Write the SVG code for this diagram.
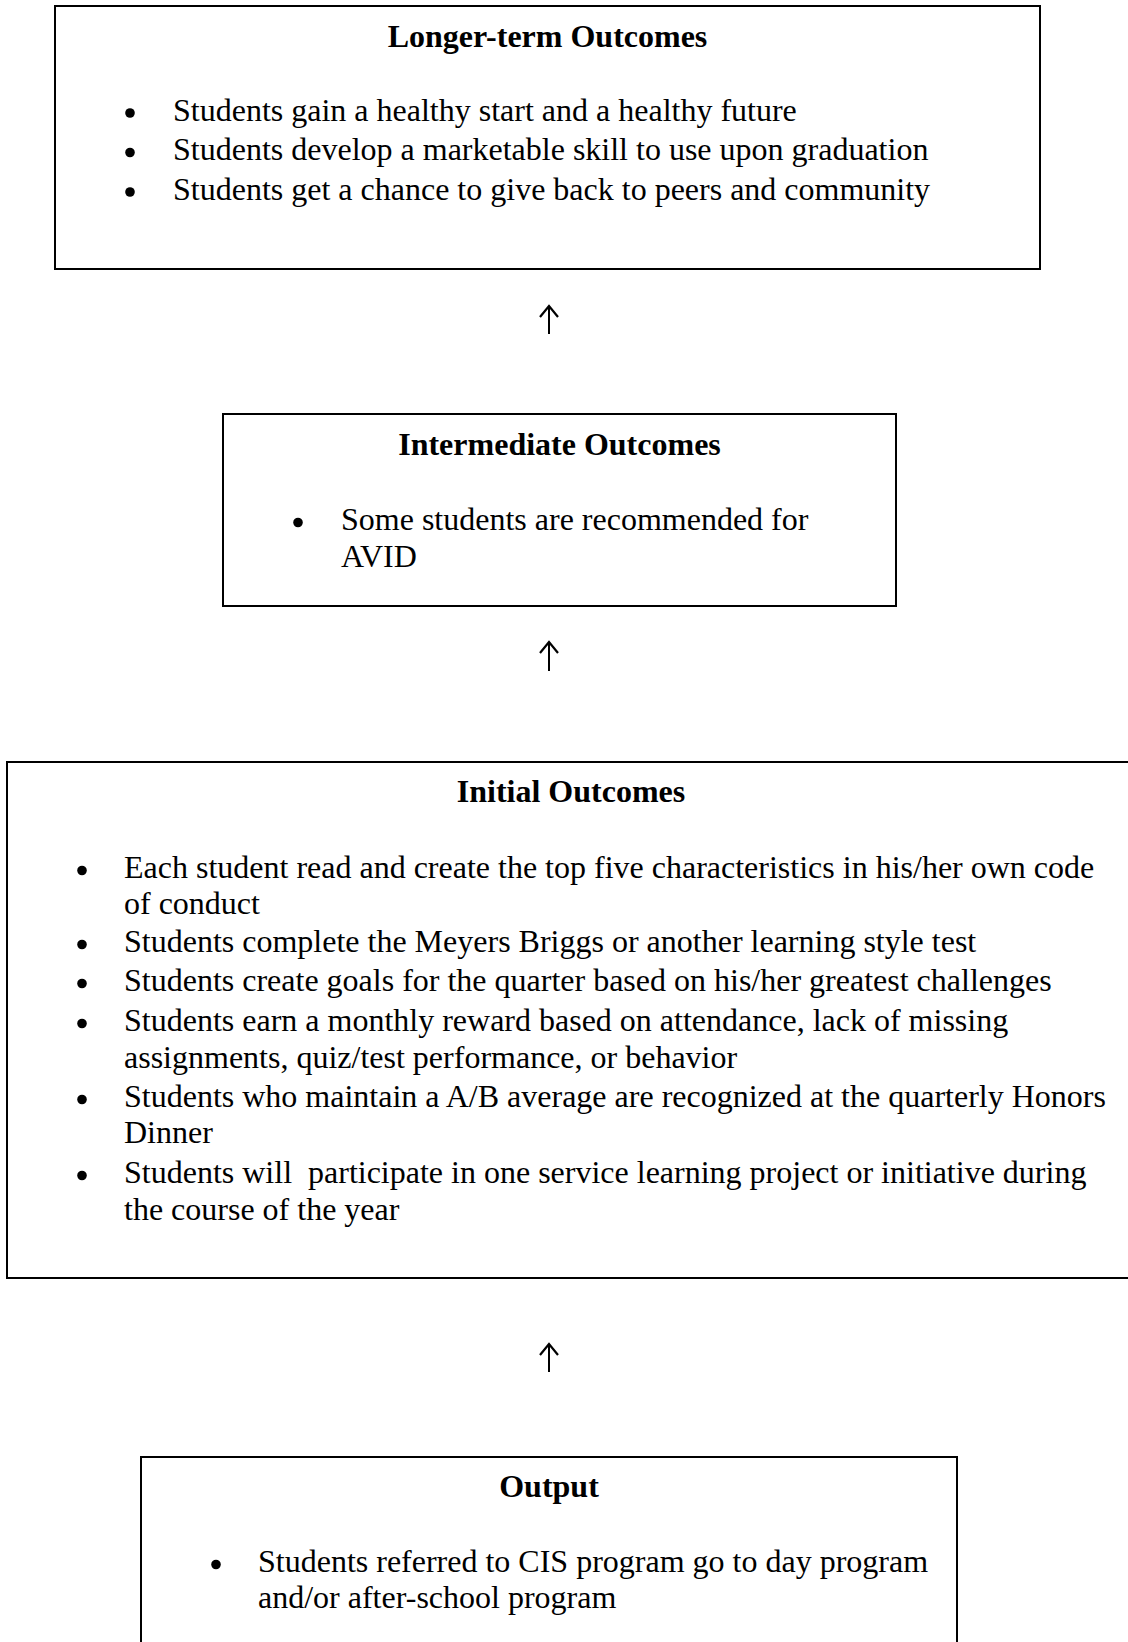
<svg xmlns="http://www.w3.org/2000/svg" width="1128" height="1642" viewBox="0 0 1128 1642">
  <style>
    .box { fill: #fff; stroke: #000; stroke-width: 2; }
    .title { font-family: "Liberation Serif", "Times New Roman", serif; font-size: 32px; font-weight: bold; fill: #000; text-anchor: middle; }
    .body { font-family: "Liberation Serif", "Times New Roman", serif; font-size: 32px; fill: #000; }
    .dot { fill: #000; }
    .conn { fill: none; stroke: #000; stroke-width: 2; }
  </style>
  <defs>
    <marker id="arrowhead" markerUnits="userSpaceOnUse" viewBox="-14 -12 16 24" refX="0" refY="0" markerWidth="16" markerHeight="24" orient="auto" overflow="visible">
      <path d="M-11,-9 L0,0 L-11,9" fill="none" stroke="#000" stroke-width="2.2" stroke-linejoin="miter"/>
    </marker>
  </defs>
  <rect width="1128" height="1642" fill="#fff"/>

  <g id="longer-term-outcomes">
    <rect class="box" x="55" y="6" width="985" height="263"/>
    <text class="title" x="547.5" y="47">Longer-term Outcomes</text>
    <circle class="dot" cx="130" cy="113" r="4.8"/>
    <text class="body" x="173" y="120.5">Students gain a healthy start and a healthy future</text>
    <circle class="dot" cx="130" cy="152.5" r="4.8"/>
    <text class="body" x="173" y="160">Students develop a marketable skill to use upon graduation</text>
    <circle class="dot" cx="130" cy="192" r="4.8"/>
    <text class="body" x="173" y="199.5">Students get a chance to give back to peers and community</text>
  </g>

  <g id="intermediate-outcomes">
    <rect class="box" x="223" y="414" width="673" height="192"/>
    <text class="title" x="559.5" y="455">Intermediate Outcomes</text>
    <circle class="dot" cx="298" cy="522.5" r="4.8"/>
    <text class="body" x="341" y="530">Some students are recommended for</text>
    <text class="body" x="341" y="567">AVID</text>
  </g>

  <g id="initial-outcomes">
    <rect class="box" x="7" y="762" width="1130" height="516"/>
    <text class="title" x="571" y="802">Initial Outcomes</text>
    <circle class="dot" cx="82" cy="870.5" r="4.8"/>
    <text class="body" x="124" y="878">Each student read and create the top five characteristics in his/her own code</text>
    <text class="body" x="124" y="914">of conduct</text>
    <circle class="dot" cx="82" cy="944.5" r="4.8"/>
    <text class="body" x="124" y="952">Students complete the Meyers Briggs or another learning style test</text>
    <circle class="dot" cx="82" cy="983.5" r="4.8"/>
    <text class="body" x="124" y="991">Students create goals for the quarter based on his/her greatest challenges</text>
    <circle class="dot" cx="82" cy="1023.5" r="4.8"/>
    <text class="body" x="124" y="1031">Students earn a monthly reward based on attendance, lack of missing</text>
    <text class="body" x="124" y="1068">assignments, quiz/test performance, or behavior</text>
    <circle class="dot" cx="82" cy="1099.5" r="4.8"/>
    <text class="body" x="124" y="1107">Students who maintain a A/B average are recognized at the quarterly Honors</text>
    <text class="body" x="124" y="1143">Dinner</text>
    <circle class="dot" cx="82" cy="1175.5" r="4.8"/>
    <text class="body" x="124" y="1183" xml:space="preserve">Students will  participate in one service learning project or initiative during</text>
    <text class="body" x="124" y="1220">the course of the year</text>
  </g>

  <g id="output">
    <rect class="box" x="141" y="1457" width="816" height="300"/>
    <text class="title" x="549" y="1497">Output</text>
    <circle class="dot" cx="216" cy="1564.5" r="4.8"/>
    <text class="body" x="258" y="1572">Students referred to CIS program go to day program</text>
    <text class="body" x="258" y="1608">and/or after-school program</text>
  </g>

  <g id="connectors">
    <path class="conn" d="M549,334 L549,306" marker-end="url(#arrowhead)"/>
    <path class="conn" d="M549,671 L549,642" marker-end="url(#arrowhead)"/>
    <path class="conn" d="M549,1372 L549,1344" marker-end="url(#arrowhead)"/>
  </g>
</svg>
